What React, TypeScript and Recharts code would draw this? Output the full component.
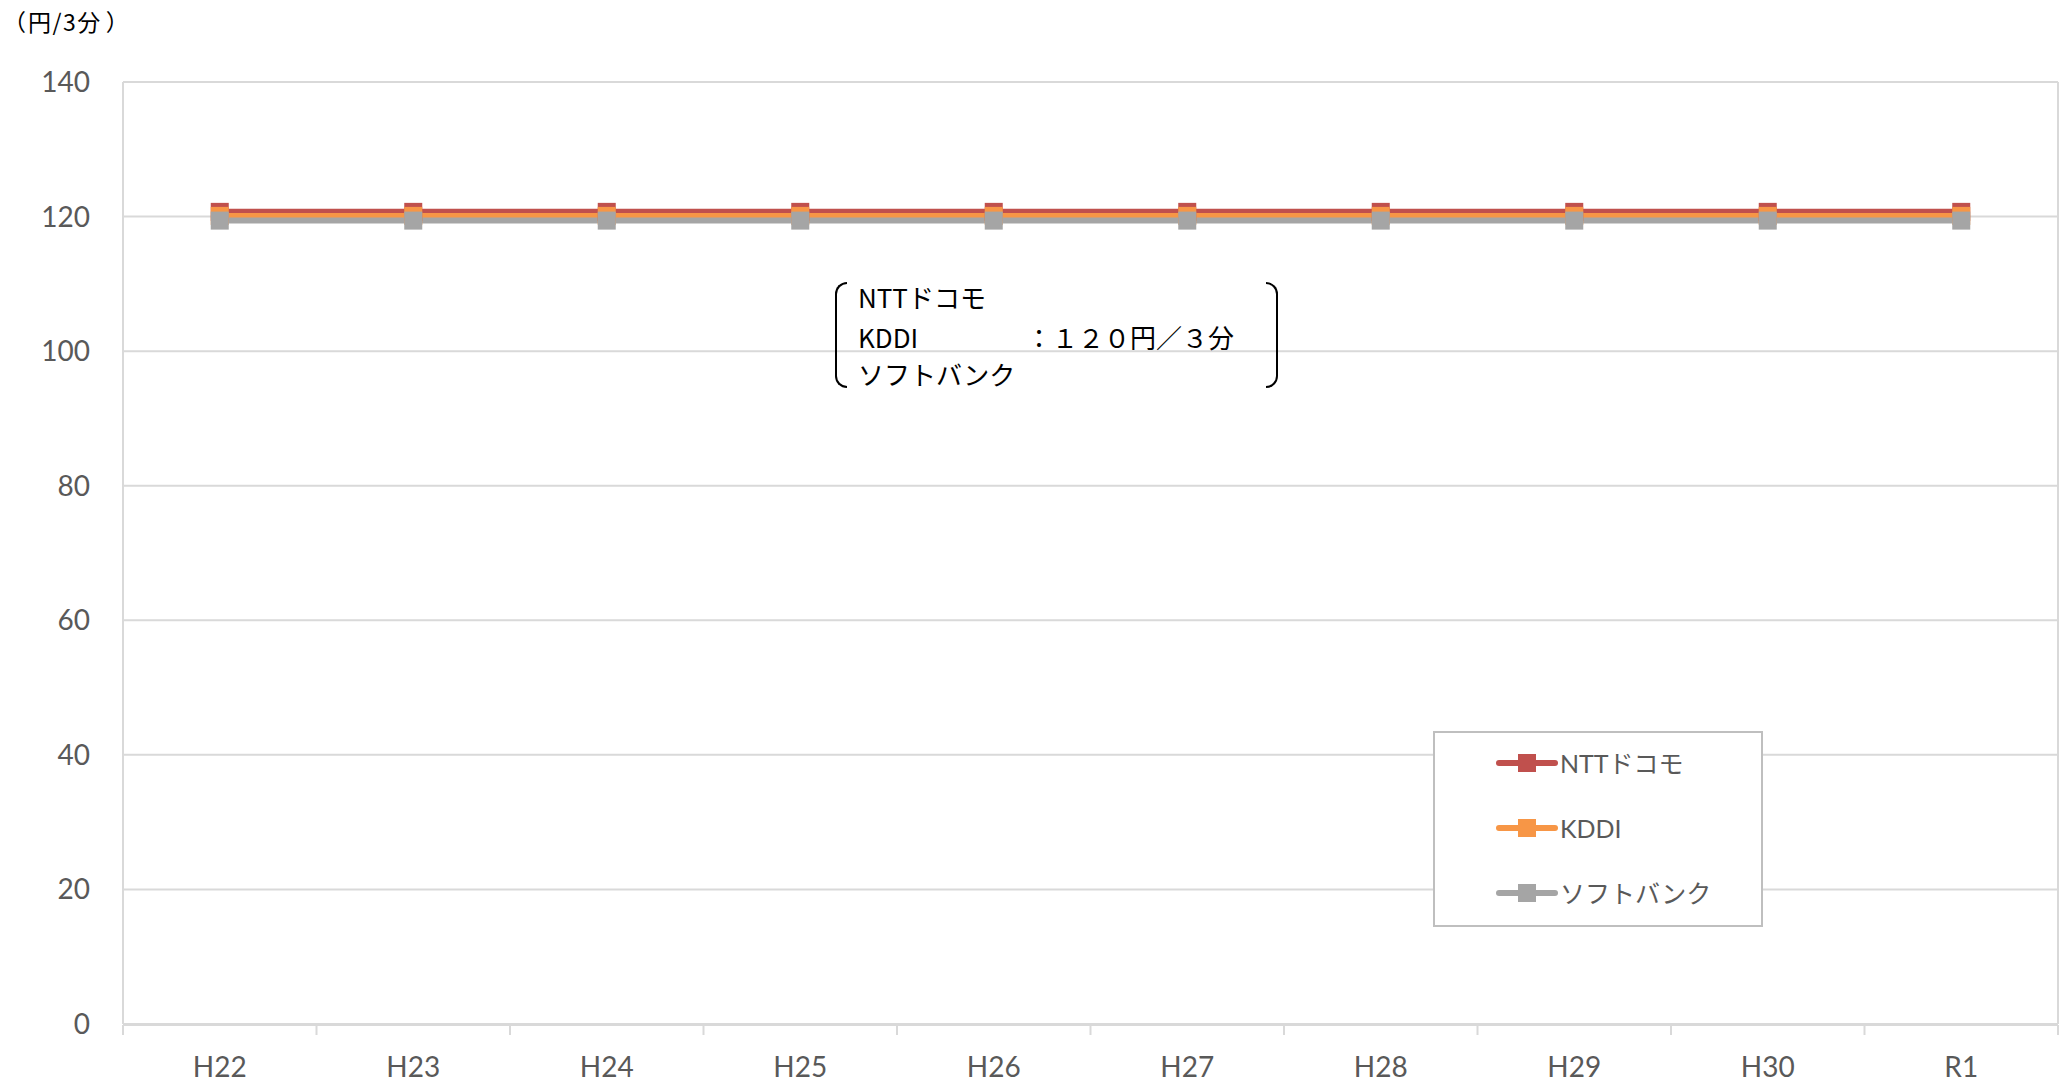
import React from 'react';
import { LineChart, Line, XAxis, YAxis, CartesianGrid, Legend, ReferenceLine } from 'recharts';

const categories = ['H22', 'H23', 'H24', 'H25', 'H26', 'H27', 'H28', 'H29', 'H30', 'R1'];
const docomoValues = [120.7, 120.7, 120.7, 120.7, 120.7, 120.7, 120.7, 120.7, 120.7, 120.7];
const kddiValues = [120.1, 120.1, 120.1, 120.1, 120.1, 120.1, 120.1, 120.1, 120.1, 120.1];
const softbankValues = [119.4, 119.4, 119.4, 119.4, 119.4, 119.4, 119.4, 119.4, 119.4, 119.4];
const yTicks = [0, 20, 40, 60, 80, 100, 120, 140];
const boundaryTicks = [0, 1, 2, 3, 4, 5, 6, 7, 8, 9, 10];
const seriesNames = ['NTTドコモ', 'KDDI', 'ソフトバンク'];
const seriesKeys = ['docomo', 'kddi', 'softbank'];
const seriesColors = ['#c0504d', '#f79646', '#a5a5a5'];
const unitParts = ['（', '円/3分', '）'];
const noteLines = ['NTTドコモ', 'KDDI', 'ソフトバンク'];
const noteValue = '：１２０円／３分';

const data = categories.map((c, i) => ({
  cat: c,
  pos: i + 0.5,
  docomo: docomoValues[i],
  kddi: kddiValues[i],
  softbank: softbankValues[i],
}));

const AXIS_FONT = "Lato, 'Noto Sans CJK JP', sans-serif";
const NOTE_FONT = "'Noto Sans CJK JP', 'Noto Sans', sans-serif";
const GRID = '#d9d9d9';

const squareDot = (color: string) => (props: any) => {
  const { cx, cy, index } = props;
  if (cx == null || cy == null) return <g key={index} />;
  return <rect key={index} x={cx - 9} y={cy - 9} width={18} height={18} fill={color} />;
};

const LegendContent = () => (
  <div
    style={{
      width: 330,
      height: 196,
      boxSizing: 'border-box',
      border: '2px solid #bfbfbf',
      background: '#fff',
      position: 'relative',
    }}
  >
    {seriesNames.map((name, i) => (
      <div
        key={name}
        style={{
          position: 'absolute',
          left: 60,
          top: 30 + i * 65 - 16,
          height: 32,
          display: 'flex',
          alignItems: 'center',
        }}
      >
        <svg width={64} height={32} style={{ display: 'block' }}>
          <line x1={4} y1={16} x2={60} y2={16} stroke={seriesColors[i]} strokeWidth={6} strokeLinecap="round" />
          <rect x={23} y={7} width={18} height={18} fill={seriesColors[i]} />
        </svg>
        <span style={{ fontFamily: AXIS_FONT, fontSize: 25, color: '#595959', lineHeight: 1, marginLeft: 1 }}>
          {name}
        </span>
      </div>
    ))}
  </div>
);

const noteStyle: any = {
  position: 'absolute',
  fontFamily: NOTE_FONT,
  fontSize: 26,
  lineHeight: 1,
  color: '#000',
  whiteSpace: 'nowrap',
};

export default function App() {
  return (
    <div style={{ position: 'absolute', left: 0, top: 0, width: 2062, height: 1085, background: '#fff' }}>
      <LineChart width={2062} height={1085} data={data} margin={{ top: 82, right: 4, left: 0, bottom: 59 }}>
        <CartesianGrid xAxisId="cat" vertical={false} stroke={GRID} strokeWidth={2} />
        <XAxis
          xAxisId="tick"
          dataKey="pos"
          type="number"
          domain={[0, 10]}
          ticks={boundaryTicks}
          interval={0}
          allowDataOverflow
          height={1}
          tickSize={10}
          tickFormatter={() => ''}
          axisLine={{ stroke: GRID, strokeWidth: 2 }}
          tickLine={{ stroke: GRID, strokeWidth: 2 }}
        />
        <XAxis
          xAxisId="cat"
          dataKey="cat"
          scale="band"
          height={1}
          interval={0}
          axisLine={false}
          tickLine={false}
          tickSize={0}
          tickMargin={33}
          tick={{ fill: '#595959', fontSize: 28, fontFamily: AXIS_FONT }}
        />
        <YAxis
          domain={[0, 140]}
          ticks={yTicks}
          interval={0}
          width={123}
          axisLine={{ stroke: GRID, strokeWidth: 2 }}
          tickLine={false}
          tickSize={6}
          tickMargin={27}
          tick={{ fill: '#595959', fontSize: 28, fontFamily: AXIS_FONT }}
        />
        <ReferenceLine xAxisId="tick" x={10} stroke={GRID} strokeWidth={2} />
        {seriesKeys.map((k, i) => (
          <Line
            key={k}
            xAxisId="cat"
            dataKey={k}
            name={seriesNames[i]}
            stroke={seriesColors[i]}
            strokeWidth={6}
            dot={squareDot(seriesColors[i])}
            activeDot={false}
            isAnimationActive={false}
          />
        ))}
        <Legend
          layout="vertical"
          align="center"
          verticalAlign="middle"
          content={<LegendContent />}
          wrapperStyle={{ left: 1433, top: 731, width: 330, height: 196 }}
        />
      </LineChart>

      <div style={{ ...noteStyle, left: 0, top: 10, fontSize: 23 }}>
        <span style={{ display: 'inline-block', width: 26, textAlign: 'right' }}>{unitParts[0]}</span>
        <span style={{ marginLeft: 2, letterSpacing: 1.5 }}>{unitParts[1]}</span>
        <span style={{ display: 'inline-block', width: 26, paddingLeft: 4, boxSizing: 'border-box' }}>{unitParts[2]}</span>
      </div>

      <div
        style={{
          position: 'absolute',
          left: 835,
          top: 282,
          width: 12,
          height: 106,
          boxSizing: 'border-box',
          border: '2px solid #000',
          borderRight: 'none',
          borderRadius: '12px 0 0 12px',
        }}
      />
      <div
        style={{
          position: 'absolute',
          left: 1266,
          top: 282,
          width: 12,
          height: 106,
          boxSizing: 'border-box',
          border: '2px solid #000',
          borderLeft: 'none',
          borderRadius: '0 12px 12px 0',
        }}
      />
      {noteLines.map((t, i) => (
        <div key={t} style={{ ...noteStyle, left: 858, top: [284, 324, 361][i] }}>
          {t}
        </div>
      ))}
      <div style={{ ...noteStyle, left: 1026, top: 324 }}>{noteValue}</div>
    </div>
  );
}
